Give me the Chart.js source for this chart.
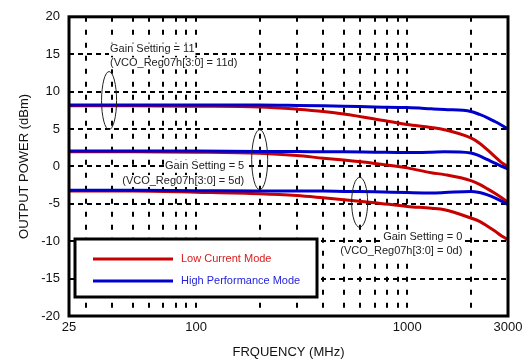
<!DOCTYPE html>
<html>
<head>
<meta charset="utf-8">
<script src="https://cdn.jsdelivr.net/npm/chart.js@4/dist/chart.umd.min.js"></script>
<style>
  html, body { margin: 0; padding: 0; background: #fff; }
</style>
</head>
<body>
<canvas id="chartPower" width="532" height="362"></canvas>
<script>
// frequency points (MHz) shared by every curve
const freqMHz = [25, 50, 100, 200, 300, 400, 500, 700, 1000, 1300, 1500, 2000, 2200, 2400, 2600, 2800, 3000];

// output power (dBm), High Performance Mode
const hpGain11 = [8.2, 8.2, 8.2, 8.2, 8.15, 8.1, 8.05, 7.95, 7.87, 7.7, 7.6, 7.35, 6.95, 6.5, 6.0, 5.5, 5.0];
const hpGain5  = [2.05, 2.05, 2.05, 2.0, 2.0, 1.95, 1.95, 1.9, 1.85, 1.9, 1.95, 1.8, 1.4, 0.9, 0.45, 0.0, -0.35];
const hpGain0  = [-3.2, -3.2, -3.25, -3.3, -3.3, -3.3, -3.35, -3.4, -3.5, -3.55, -3.5, -3.35, -3.5, -3.8, -4.2, -4.65, -5.1];

// output power (dBm), Low Current Mode
const lcGain11 = [8.1, 8.1, 8.05, 7.95, 7.65, 7.35, 7.0, 6.35, 5.6, 5.2, 4.9, 3.8, 3.1, 2.2, 1.3, 0.5, 0.0];
const lcGain5  = [1.95, 1.95, 1.9, 1.75, 1.45, 1.1, 0.85, 0.4, -0.2, -0.85, -1.1, -1.9, -2.4, -3.0, -3.6, -4.2, -4.8];
const lcGain0  = [-3.3, -3.3, -3.45, -3.65, -3.9, -4.2, -4.45, -4.85, -5.35, -5.6, -5.8, -6.9, -7.35, -8.0, -8.65, -9.3, -9.8];

const modeNames = ['Low Current Mode', 'High Performance Mode'];

const xTicks = [25, 30, 40, 50, 60, 70, 80, 90, 100, 200, 300, 400, 500, 600, 700, 800, 900, 1000, 2000, 3000];
const xTickLabels = [25, 100, 1000, 3000];

// annotation text + ellipse around each gain group
const notes = [
    { lines: ['Gain Setting = 11', '(VCO_Reg07h[3:0] = 11d)'], freq: 39.1, db: 15.65, align: 'left', gap: 14 },
    { lines: ['Gain Setting = 5', '(VCO_Reg07h[3:0] = 5d)'], freq: 169, db: 0.05, align: 'right', gap: 15 },
    { lines: ['Gain Setting = 0', '(VCO_Reg07h[3:0] = 0d)'], freq: 1823, db: -9.45, align: 'right', gap: 14 }
];
const rings = [
    { freq: 38.7, db: 8.8, rx: 7.5, ry: 29 },
    { freq: 200, db: 0.9, rx: 8, ry: 30 },
    { freq: 595, db: -4.8, rx: 8, ry: 25 }
];

const RED = '#c80000';
const BLUE = '#0000cc';
const FONT = '"Liberation Sans", Arial, Helvetica, sans-serif';

function pts(vals) {
    return freqMHz.map((f, i) => ({ x: f, y: vals[i] }));
}
function line(label, vals, color) {
    return {
        label: label,
        data: pts(vals),
        borderColor: color,
        backgroundColor: color,
        borderWidth: 3,
        pointRadius: 0,
        cubicInterpolationMode: 'monotone',
        fill: false
    };
}

const extras = {
    id: 'extras',
    afterDatasetsDraw(chart) {
        const { ctx, chartArea: a, scales: { x, y } } = chart;
        ctx.save();

        // text notes with white backing
        ctx.font = '11px ' + FONT;
        ctx.textBaseline = 'middle';
        ctx.textAlign = 'left';
        notes.forEach(n => {
            const px = x.getPixelForValue(n.freq);
            const py = y.getPixelForValue(n.db);
            n.lines.forEach((t, i) => {
                const w = ctx.measureText(t).width;
                const ty = py + i * n.gap;
                const left = n.align === 'left' ? px : px - w;
                ctx.fillStyle = '#fff';
                ctx.fillRect(left - 1, ty - 6, w + 2, 12);
                ctx.fillStyle = '#222';
                ctx.fillText(t, left, ty);
            });
        });

        // ellipses
        ctx.strokeStyle = '#222';
        ctx.lineWidth = 1;
        rings.forEach(r => {
            ctx.beginPath();
            ctx.ellipse(x.getPixelForValue(r.freq), y.getPixelForValue(r.db), r.rx, r.ry, 0, 0, Math.PI * 2);
            ctx.stroke();
        });

        // legend box
        const bx = 75, by = 239, bw = 242, bh = 58;
        ctx.fillStyle = '#fff';
        ctx.fillRect(bx, by, bw, bh);
        ctx.lineWidth = 3;
        ctx.strokeStyle = '#000';
        ctx.strokeRect(bx, by, bw, bh);
        const legendItems = [
            { text: modeNames[0], color: RED, textColor: '#dd1a1a' },
            { text: modeNames[1], color: BLUE, textColor: '#2424dd' }
        ];
        legendItems.forEach((it, i) => {
            const ly = by + 20 + i * 22;
            ctx.strokeStyle = it.color;
            ctx.lineWidth = 3;
            ctx.beginPath();
            ctx.moveTo(93, ly);
            ctx.lineTo(173, ly);
            ctx.stroke();
            ctx.fillStyle = it.textColor;
            ctx.font = '11px ' + FONT;
            ctx.fillText(it.text, 181, ly);
        });

        // plot frame
        ctx.lineWidth = 3;
        ctx.strokeStyle = '#000';
        ctx.strokeRect(a.left, a.top, a.right - a.left, a.bottom - a.top);
        ctx.restore();
    }
};

const ctx = document.getElementById('chartPower').getContext('2d');
const chart = new Chart(ctx, {
    type: 'line',
    data: {
        datasets: [
            line(modeNames[1], hpGain11, BLUE),
            line(modeNames[1], hpGain5, BLUE),
            line(modeNames[1], hpGain0, BLUE),
            line(modeNames[0], lcGain11, RED),
            line(modeNames[0], lcGain5, RED),
            line(modeNames[0], lcGain0, RED)
        ]
    },
    options: {
        responsive: false,
        animation: false,
        layout: { padding: { top: 15, right: 24, left: 0, bottom: 0 } },
        plugins: {
            legend: { display: false },
            tooltip: { enabled: false }
        },
        scales: {
            x: {
                type: 'logarithmic',
                min: 25,
                max: 3000,
                afterBuildTicks: (scale) => {
                    scale.ticks = xTicks.map(v => ({ value: v }));
                },
                afterFit: (scale) => { scale.height = 46; },
                ticks: {
                    autoSkip: false,
                    maxRotation: 0,
                    padding: 4,
                    color: '#111',
                    font: { size: 13, family: FONT },
                    callback: (v) => xTickLabels.includes(v) ? String(v) : ''
                },
                grid: {
                    drawTicks: false,
                    lineWidth: 2,
                    color: (c) => (c.tick && (c.tick.value === 25 || c.tick.value === 3000)) ? 'rgba(0,0,0,0)' : '#000'
                },
                border: { display: false, dash: [5, 8] },
                title: {
                    display: true,
                    text: 'FRQUENCY (MHz)',
                    color: '#111',
                    font: { size: 13, family: FONT },
                    padding: { top: 0, bottom: 2 }
                }
            },
            y: {
                min: -20,
                max: 20,
                afterFit: (scale) => { scale.width = 69; },
                ticks: {
                    stepSize: 5,
                    padding: 9,
                    color: '#111',
                    font: { size: 13, family: FONT }
                },
                grid: {
                    drawTicks: false,
                    lineWidth: 2,
                    color: (c) => (c.tick && Math.abs(c.tick.value) === 20) ? 'rgba(0,0,0,0)' : '#000'
                },
                border: { display: false, dash: [5, 4] },
                title: {
                    display: true,
                    text: 'OUTPUT POWER (dBm)',
                    color: '#111',
                    font: { size: 13, family: FONT },
                    padding: { top: 17, bottom: 0 }
                }
            }
        }
    },
    plugins: [extras]
});
</script>
</body>
</html>
